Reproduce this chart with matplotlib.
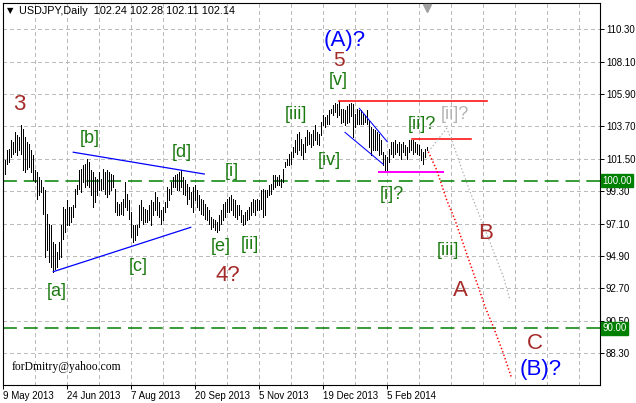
import numpy as np
import matplotlib
matplotlib.use('Agg')
import matplotlib.pyplot as plt
from matplotlib.transforms import blended_transform_factory

plt.rcParams['lines.scale_dashes'] = False

# ---------------- data ----------------
highs = [
    101.39, 102.07, 102.18, 102.75, 102.64, 103.31, 103.09, 102.98, 103.77, 103.54,
    102.98, 102.64, 102.52, 102.07, 101.73, 100.71, 100.60, 100.26, 100.03, 99.58,
    99.36, 97.77, 97.09, 96.98, 95.85, 95.73, 95.17, 95.85, 96.98, 98.22,
    98.11, 98.68, 98.22, 98.22, 98.34, 99.47, 99.70, 100.71, 100.83, 101.05,
    101.17, 101.50, 101.28, 100.71, 100.60, 100.26, 100.15, 100.60, 100.15, 100.83,
    100.60, 100.71, 100.60, 100.49, 100.37, 99.47, 98.56, 98.45, 98.56, 98.79,
    99.92, 99.13, 98.68, 97.88, 96.98, 96.98, 96.98, 98.34, 98.68, 98.22,
    98.11, 98.00, 98.34, 98.68, 98.56, 99.24, 98.90, 98.56, 98.00, 98.22,
    98.56, 99.58, 99.47, 99.92, 100.26, 100.37, 100.49, 100.60, 100.71, 100.26,
    100.03, 99.81, 99.58, 99.24, 99.58, 99.70, 99.36, 99.02, 98.79, 98.68,
    98.45, 98.22, 98.00, 97.55, 97.43, 97.32, 97.21, 97.66, 98.00, 98.45,
    98.56, 98.79, 98.90, 99.02, 98.79, 98.68, 98.34, 98.34, 98.00, 97.66,
    97.88, 98.00, 98.22, 98.56, 98.79, 98.68, 98.79, 98.68, 99.36, 99.47,
    99.36, 99.36, 99.70, 99.81, 100.37, 100.37, 100.26, 100.37, 100.15, 100.83,
    101.28, 101.50, 101.84, 101.96, 102.30, 102.75, 103.20, 103.31, 102.86, 102.52,
    102.98, 103.43, 103.31, 103.20, 103.43, 103.77, 103.31, 103.20, 104.00, 104.45,
    104.33, 104.45, 104.79, 104.90, 105.13, 105.30, 105.20, 105.45, 104.90, 104.90,
    104.80, 105.10, 105.20, 105.30, 105.20, 104.56, 104.90, 104.79, 104.79, 104.56,
    104.45, 104.79, 104.11, 103.65, 103.54, 103.43, 103.31, 103.20, 102.75, 101.96,
    101.73, 101.62, 102.18, 102.64, 102.64, 102.75, 102.52, 102.64, 102.52, 102.64,
    102.41, 102.30, 102.75, 102.75, 102.75, 102.64, 102.52, 102.41, 102.18, 101.96,
    102.18, 102.28,
]
lows = [
    100.49, 101.17, 101.28, 101.62, 101.84, 101.96, 101.73, 102.07, 101.84, 100.71,
    100.60, 100.83, 100.94, 100.60, 100.03, 99.92, 98.79, 99.02, 99.24, 97.77,
    94.83, 95.28, 94.49, 94.15, 93.81, 94.04, 94.15, 94.72, 94.83, 96.07,
    96.53, 96.98, 96.98, 97.20, 97.54, 98.22, 99.13, 99.47, 99.24, 99.92,
    99.58, 99.70, 99.58, 99.02, 98.22, 98.56, 99.02, 99.36, 99.36, 99.47,
    99.13, 98.90, 99.13, 99.36, 99.58, 97.88, 97.66, 97.66, 97.77, 97.66,
    98.22, 98.00, 97.43, 96.19, 95.85, 95.96, 96.30, 96.87, 97.32, 97.09,
    97.21, 97.21, 97.32, 96.98, 97.66, 98.00, 97.66, 97.55, 97.09, 97.32,
    97.88, 98.22, 98.68, 99.13, 99.58, 99.58, 99.36, 99.36, 99.58, 99.13,
    99.02, 98.45, 98.79, 98.22, 97.88, 98.68, 98.22, 98.00, 97.77, 97.66,
    97.43, 97.32, 97.09, 96.75, 96.87, 96.64, 96.53, 96.64, 97.09, 97.32,
    97.55, 97.88, 97.88, 98.00, 97.66, 97.55, 97.43, 97.66, 97.21, 96.98,
    97.09, 97.32, 97.43, 97.66, 97.88, 97.66, 98.00, 98.00, 98.11, 97.54,
    97.66, 98.90, 99.02, 99.13, 99.47, 99.58, 99.70, 99.70, 99.58, 99.92,
    100.94, 101.05, 101.05, 101.17, 101.62, 101.96, 101.84, 102.07, 101.73, 101.50,
    101.96, 102.41, 102.52, 102.30, 102.41, 102.75, 102.52, 102.41, 103.09, 103.77,
    103.65, 103.88, 103.88, 104.60, 104.45, 104.70, 104.30, 104.50, 103.90, 104.00,
    103.80, 103.90, 104.00, 104.40, 103.00, 103.65, 103.88, 103.88, 103.88, 103.88,
    104.00, 103.88, 102.30, 101.73, 102.07, 102.07, 102.07, 101.73, 101.84, 101.05,
    100.71, 100.71, 101.28, 101.84, 101.62, 101.84, 101.96, 101.73, 101.50, 101.96,
    101.73, 101.50, 101.96, 102.07, 101.84, 101.96, 101.84, 101.73, 101.39, 101.17,
    101.62, 102.11,
]
bar_pos = np.arange(1, len(highs) + 1)

date_ticks = [0, 32, 64, 96, 128, 160, 192]
date_labels = ['9 May 2013', '24 Jun 2013', '7 Aug 2013', '20 Sep 2013',
               '5 Nov 2013', '19 Dec 2013', '5 Feb 2014']
price_ticks = [88.30, 90.50, 92.70, 94.90, 97.10, 99.30, 101.50, 103.70, 105.90, 108.10, 110.30]
levels = [100.00, 90.00]

# trend / pattern lines (bar index, price)
tri_upper_x, tri_upper_y = [35.0, 100.5], [101.94, 100.46]
tri_lower_x, tri_lower_y = [25.0, 93.7], [93.83, 96.84]
chan_upper_x, chan_upper_y = [178.0, 192.0], [104.92, 102.65]
chan_lower_x, chan_lower_y = [170.85, 190.0], [103.29, 101.12]
top_line_x, top_line_y = [168.0, 242.0], [105.45, 105.45]
ii_line_x, ii_line_y = [204.2, 233.7], [102.82, 102.82]
i_line_x, i_line_y = [187.85, 219.7], [100.60, 100.60]

red_path_x = [212.5, 216.7, 221.7, 225.85, 233.35, 239.2, 240.85, 245.0, 250.0, 254.2]
red_path_y = [101.98, 100.73, 98.70, 97.34, 94.40, 92.13, 91.45, 90.09, 88.29, 86.59]
gray_path_x = [212.5, 221.7, 224.2, 230.0, 233.35, 238.35, 244.2, 250.0, 253.35]
gray_path_y = [101.98, 103.56, 102.77, 100.51, 99.26, 97.56, 95.53, 93.49, 91.91]

GREEN = '#1a7a10'
BROWN = '#a52a2a'
BLUE = '#0000ff'
labels = [
    ('3', 8.0, 105.21, BROWN, 16),
    ('[b]', 43.0, 102.89, GREEN, 13),
    ('[d]', 89.2, 101.94, GREEN, 13),
    ('[i]', 114.2, 100.62, GREEN, 13),
    ('[iii]', 146.4, 104.47, GREEN, 13),
    ('[a]', 26.7, 92.47, GREEN, 13),
    ('[c]', 67.5, 94.17, GREEN, 13),
    ('[e]', 108.7, 95.53, GREEN, 13),
    ('[ii]', 123.4, 95.69, GREEN, 13),
    ('4?', 112.5, 93.54, BROWN, 16),
    ('[iv]', 163.0, 101.36, GREEN, 13),
    ('[v]', 167.5, 106.82, GREEN, 13),
    ('5', 168.0, 108.2, BROWN, 15),
    ('(A)?', 170.9, 109.5, BLUE, 16),
    ('[ii]?', 209.2, 103.79, GREEN, 13),
    ('[ii]?', 225.9, 104.47, '#b4b4b4', 13),
    ('[i]?', 194.2, 99.04, GREEN, 13),
    ('[iii]', 222.2, 95.30, GREEN, 13),
    ('B', 240.9, 96.44, BROWN, 16),
    ('A', 228.4, 92.58, BROWN, 16),
    ('C', 265.9, 88.97, BROWN, 16),
    ('(B)?', 268.7, 87.20, BLUE, 16),
]

# ---------------- figure ----------------
W, H = 636, 403
PX = 0.72  # one pixel in points at 100 dpi
fig = plt.figure(figsize=(W / 100, H / 100), dpi=100)
fig.patch.set_facecolor('white')
ax = fig.add_axes([3.3 / W, (H - 385) / H, (600 - 3.3) / W, (385 - 3.3) / H])
ax.set_xlim(0, 298.35)
ax.set_ylim(86.134, 112.053)
ax.set_facecolor('white')
for s in ax.spines.values():
    s.set_color('black')
    s.set_linewidth(0.8)

# grid
for gx in range(16, 298, 16):
    ax.axvline(gx, color='#bcbcbc', lw=PX, dashes=(2.2, 2.2), zorder=0, antialiased=False)
for gy in price_ticks:
    ax.axhline(gy, color='#bcbcbc', lw=PX, dashes=(2.2, 2.2), zorder=0, antialiased=False)

# level lines
for lv in levels:
    ax.axhline(lv, color='#008000', lw=1.1, dashes=(10, 5), zorder=1)

# bars
ax.vlines(bar_pos, lows, highs, color='black', lw=PX, zorder=3, antialiased=False)

# pattern lines
ax.plot(tri_upper_x, tri_upper_y, color=BLUE, lw=0.9, zorder=4)
ax.plot(tri_lower_x, tri_lower_y, color=BLUE, lw=0.9, zorder=4)
ax.plot(chan_upper_x, chan_upper_y, color=BLUE, lw=0.75, zorder=4)
ax.plot(chan_lower_x, chan_lower_y, color=BLUE, lw=0.75, zorder=4)
ax.plot(top_line_x, top_line_y, color='#ff0000', lw=1.1, zorder=4, snap=True)
ax.plot(ii_line_x, ii_line_y, color='#ff0000', lw=1.1, zorder=4, snap=True)
ax.plot(i_line_x, i_line_y, color='#ff00ff', lw=2 * PX, zorder=4, antialiased=False)
ax.plot(red_path_x, red_path_y, color='#ff0000', lw=1.1, dashes=(1.0, 1.6), zorder=4)
ax.plot(gray_path_x, gray_path_y, color='#a8a8a8', lw=0.8, dashes=(1.0, 1.6), zorder=4)

for txt, x, y, c, fs in labels:
    ax.text(x, y, txt, color=c, fontsize=fs, family='Liberation Sans',
            ha='center', va='center', zorder=5)

ax.text(4.35, 87.38, 'forDmitry@yahoo.com', family='Liberation Serif', fontsize=8.4,
        color='black', ha='left', va='center', zorder=5)

# axes ticks
ax.yaxis.tick_right()
ax.set_yticks(price_ticks)
ax.set_yticklabels(['%.2f' % p for p in price_ticks])
ax.tick_params(axis='y', direction='out', length=3, width=0.7, labelsize=7, pad=1.2,
               colors='black')
ax.set_xticks(date_ticks)
ax.set_xticklabels(date_labels)
ax.tick_params(axis='x', direction='out', length=3, width=0.7, labelsize=7, pad=1.5)
for lbl in ax.get_xticklabels() + ax.get_yticklabels():
    lbl.set_family('Liberation Sans')
for lbl in ax.get_xticklabels():
    lbl.set_ha('left')

# level boxes on price scale
tr = blended_transform_factory(ax.transAxes, ax.transData)
for lv in levels:
    ax.text(1.004, lv, '%.2f' % lv, transform=tr, fontsize=7, family='Liberation Sans',
            color='white', ha='left', va='center', clip_on=False, zorder=6,
            bbox=dict(boxstyle='square,pad=0.15', fc='#008000', ec='#008000'))

# chart shift marker
trx = blended_transform_factory(ax.transData, ax.transAxes)
ax.plot([211.7], [0.988], marker='v', ms=6, color='#a0a0a0', transform=trx, clip_on=False, zorder=6)

# header
fig.text(7 / W, 1 - 11 / H, '\u25bc', fontsize=6, family='DejaVu Sans', va='center', ha='left')
fig.text(19 / W, 1 - 11 / H, 'USDJPY,Daily  102.24 102.28 102.11 102.14', fontsize=7.8,
         family='Liberation Sans', va='center', ha='left')

fig.savefig('out.png', dpi=100, facecolor='white')
